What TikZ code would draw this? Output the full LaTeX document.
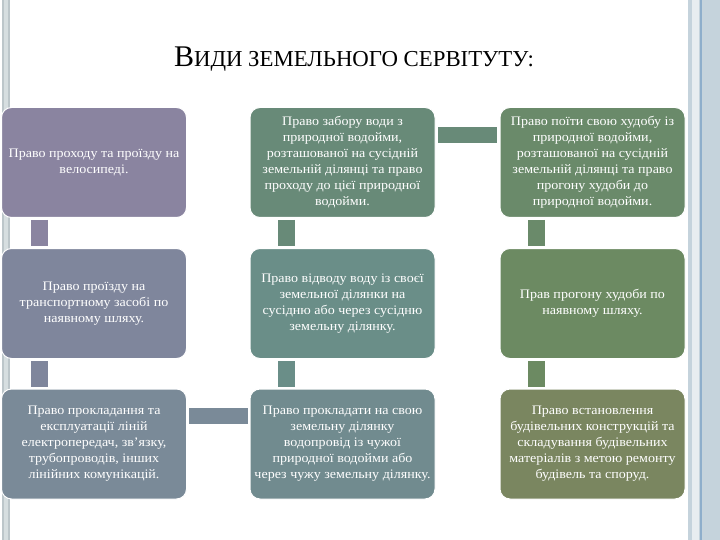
\documentclass[tikz,border=0pt]{standalone}
\usepackage{fontspec}
\setmainfont{Liberation Serif}
\newfontfamily\boxfont[FakeStretch=1.08]{Liberation Serif}
\begin{document}
\begin{tikzpicture}[x=1pt,y=-1pt,
  box/.style={draw=white,line width=1pt,rounded corners=10pt,minimum width=185pt,minimum height=110pt,
    text=white,align=center,font=\boxfont\fontsize{13}{16}\selectfont,inner sep=1pt},
  conn/.style={line width=17pt}]
\definecolor{cA}{HTML}{8A84A0}
\definecolor{cB}{HTML}{7F869C}
\definecolor{cC}{HTML}{7A8A98}
\definecolor{cD}{HTML}{688A78}
\definecolor{cE}{HTML}{6A8E88}
\definecolor{cF}{HTML}{718B8F}
\definecolor{cG}{HTML}{6A8A6A}
\definecolor{cH}{HTML}{6C8A62}
\definecolor{cI}{HTML}{7A8660}
\definecolor{sL1}{HTML}{BCC6CA}
\definecolor{sL2}{HTML}{D6DEE0}
\definecolor{sR1}{HTML}{C5D3DC}
\definecolor{sR2}{HTML}{E8EDF0}
\definecolor{sR3}{HTML}{8EAECB}
\useasboundingbox[fill=white] (0,0) rectangle (720,540);
% side strips
\fill[sL1] (2,0) rectangle (10,540);
\fill[sL2] (4,0) rectangle (8,540);
\fill[sR1] (688,0) rectangle (720,540);
\fill[sR2] (692,0) rectangle (699,540);
\draw[sR3,line width=1.5pt] (701,0) -- (701,540);
% title
\node[anchor=base] (title) at (354,67) {\fontsize{30}{30}\selectfont В\fontsize{22.8}{22.8}\selectfont ИДИ ЗЕМЕЛЬНОГО СЕРВІТУТУ:};
% boxes
\node[box,fill=cA] (a11) at (94,162.5) {Право проходу та проїзду на\\велосипеді.};
\node[box,fill=cD] (a12) at (342.5,162.5) {Право забору води з\\природної водойми,\\розташованої на сусідній\\земельній ділянці та право\\проходу до цієї природної\\водойми.};
\node[box,fill=cG] (a13) at (592.5,162.5) {Право поїти свою худобу із\\природної водойми,\\розташованої на сусідній\\земельній ділянці та право\\прогону худоби до\\природної водойми.};
\node[box,fill=cB] (a21) at (94,303.5) {Право проїзду на\\транспортному засобі по\\наявному шляху.};
\node[box,fill=cE] (a22) at (342.5,303.5) {Право відводу воду із своєї\\земельної ділянки на\\сусідню або через сусідню\\земельну ділянку.};
\node[box,fill=cH] (a23) at (592.5,303.5) {Прав прогону худоби по\\наявному шляху.};
\node[box,fill=cC] (a31) at (94,444) {Право прокладання та\\експлуатації ліній\\електропередач, зв’язку,\\трубопроводів, інших\\лінійних комунікацій.};
\node[box,fill=cF] (a32) at (342.5,444) {Право прокладати на свою\\земельну ділянку\\водопровід із чужої\\природної водойми або\\через чужу земельну ділянку.};
\node[box,fill=cI] (a33) at (592.5,444) {Право встановлення\\будівельних конструкцій та\\складування будівельних\\матеріалів з метою ремонту\\будівель та споруд.};
% vertical connectors
\foreach \t/\b/\c/\dx in {a11/a21/cA/38, a21/a31/cB/38, a12/a22/cD/37, a22/a32/cE/37, a13/a23/cG/37, a23/a33/cH/37}{
  \draw[conn,\c] ([xshift=\dx pt,yshift=-2pt]\t.south west) -- ([xshift=\dx pt,yshift=2pt]\b.north west);
}
% horizontal connectors
\draw[conn,line width=16pt,cD] ([xshift=2.5pt,yshift=27.5pt]a12.east) -- ([xshift=-2.5pt,yshift=27.5pt]a13.west);
\draw[conn,line width=16pt,cC] ([xshift=2pt,yshift=28pt]a31.east) -- ([xshift=-2pt,yshift=28pt]a32.west);
\end{tikzpicture}
\end{document}
